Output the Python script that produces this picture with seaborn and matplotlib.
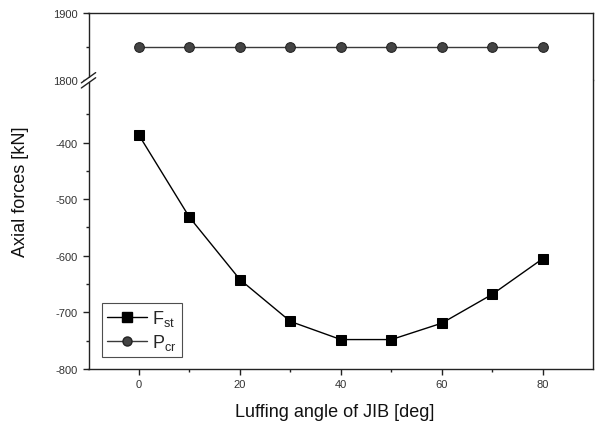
import matplotlib
matplotlib.use("Agg")
import matplotlib.pyplot as plt
import seaborn as sns
import pandas as pd
from matplotlib.lines import Line2D

angles = [0, 10, 20, 30, 40, 50, 60, 70, 80]
f_st = [-387, -532, -642, -716, -748, -748, -719, -668, -605]
p_cr = [1850, 1850, 1850, 1850, 1850, 1850, 1850, 1850, 1850]
x_ticks = [0, 20, 40, 60, 80]
y_ticks_low = [-800, -700, -600, -500, -400]
y_ticks_high = [1800, 1900]

sns.set_style("ticks")
plt.rcParams['font.family'] = ['Liberation Sans', 'DejaVu Sans']
plt.rcParams['axes.unicode_minus'] = False
plt.rcParams['mathtext.fontset'] = 'custom'
plt.rcParams['mathtext.rm'] = 'Liberation Sans'
plt.rcParams['mathtext.it'] = 'Liberation Sans'

df = pd.DataFrame({"angle": angles, "F": f_st, "P": p_cr})

W, H = 597, 427
fig = plt.figure(figsize=(W / 100, H / 100), dpi=100)
left = 88.5 / W
right = 593.3 / W
y_top = 1 - 14 / H
y_break = 1 - 81.3 / H
y_bot = 1 - 370 / H

ax_top = fig.add_axes([left, y_break, right - left, y_top - y_break])
ax_bot = fig.add_axes([left, y_bot, right - left, y_break - y_bot])

sns.lineplot(data=df, x="angle", y="P", ax=ax_top, color="#3a3a3a", lw=1.0,
             marker="o", markersize=7, markeredgecolor="#222222",
             markerfacecolor="#444444", legend=False)
sns.lineplot(data=df, x="angle", y="F", ax=ax_bot, color="black", lw=1.0,
             marker="s", markersize=7.5, markeredgecolor="black",
             markerfacecolor="black", legend=False)

for ax in (ax_top, ax_bot):
    ax.set_xlim(-10, 90)
    ax.set_xlabel("")
    ax.set_ylabel("")
    for s in ax.spines.values():
        s.set_color("#222222")
        s.set_linewidth(1.0)
    ax.tick_params(direction="out", length=4, width=1, colors="#222222",
                   labelsize=8, labelcolor="#333333")
    ax.tick_params(which="minor", direction="out", length=2.5, width=1, colors="#222222")

ax_top.set_ylim(1800, 1900)
ax_top.set_yticks(y_ticks_high)
ax_top.set_yticks([1850], minor=True)
ax_top.spines['bottom'].set_visible(False)
ax_top.tick_params(axis='x', which='both', bottom=False, labelbottom=False)

ax_bot.set_ylim(-800, -290)
ax_bot.set_yticks(y_ticks_low)
ax_bot.set_yticks([-750, -650, -550, -450, -350], minor=True)
ax_bot.set_xticks(x_ticks)
ax_bot.set_xticks([10, 30, 50, 70], minor=True)
ax_bot.spines['top'].set_visible(False)

# break marks on left spine
kw = dict(transform=fig.transFigure, color="#222222", lw=1.0, clip_on=False)
bx = left
by = y_break
fig.add_artist(Line2D([bx - 0.006, bx + 0.006], [by - 0.004, by + 0.004],
                      transform=fig.transFigure, color="white", lw=2.5, clip_on=False))
for dy in (-0.006, 0.006):
    fig.add_artist(Line2D([bx - 0.012, bx + 0.012], [by + dy - 0.012, by + dy + 0.012], **kw))

fig.text((left + right) / 2 - 0.01, 0.035, "Luffing angle of JIB [deg]", ha="center", va="center",
         fontsize=13, color="#111111")
fig.text(0.035, 0.55, "Axial forces [kN]", ha="center", va="center", rotation=90,
         fontsize=13, color="#111111")

handles = [
    Line2D([], [], color="black", lw=1.0, marker="s", markersize=6.5, markerfacecolor="black"),
    Line2D([], [], color="#3a3a3a", lw=1.0, marker="o", markersize=6.5, markerfacecolor="#444444",
           markeredgecolor="#222222"),
]
leg = ax_bot.legend(handles, [r"F$_{\mathregular{st}}$", r"P$_{\mathregular{cr}}$"],
                    loc="lower left", bbox_to_anchor=(0.026, 0.04), fontsize=13,
                    frameon=True, fancybox=False, edgecolor="#222222", handlelength=2.2,
                    handletextpad=0.3, borderpad=0.3, labelspacing=0.2, borderaxespad=0)
leg.get_frame().set_linewidth(0.8)

fig.savefig("out.png", dpi=100)
